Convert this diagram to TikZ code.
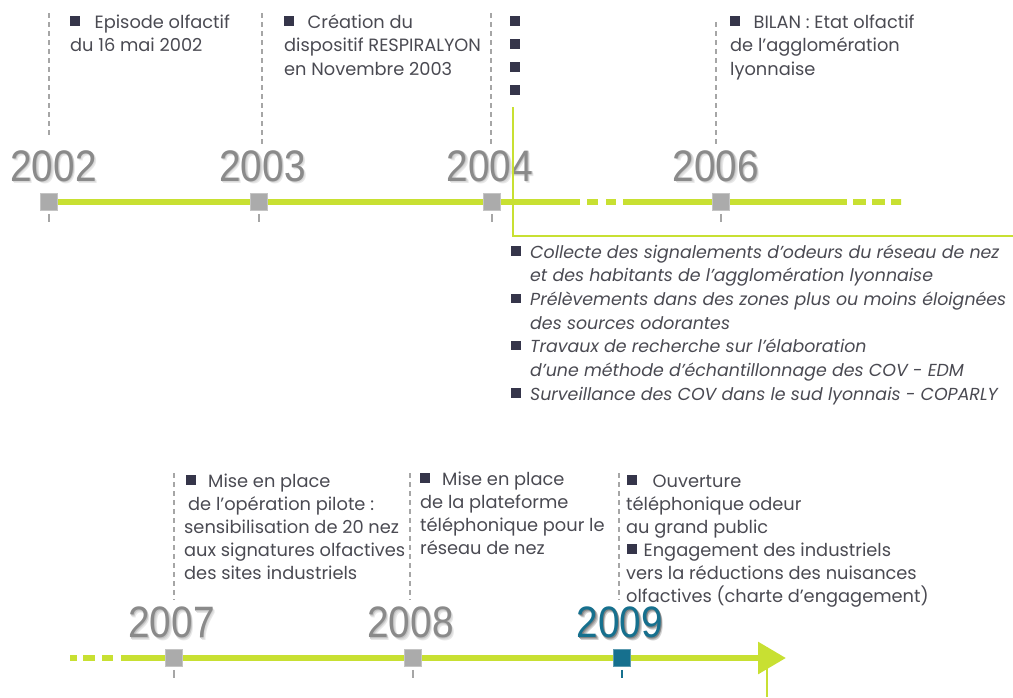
\documentclass[tikz,border=0pt]{standalone}
\usepackage{fontspec}
\usepackage{graphicx}
\setmainfont{Poppins}
\newfontfamily\yrfont{Liberation Sans}
\usetikzlibrary{arrows.meta,backgrounds}
\definecolor{lime}{HTML}{C8E032}
\definecolor{sqgray}{HTML}{ABABAB}
\definecolor{guidegray}{HTML}{A6A6A6}
\definecolor{txtc}{HTML}{4A4A52}
\definecolor{bulc}{HTML}{35354A}
\definecolor{yrgray}{HTML}{8A8A8A}
\definecolor{yrblue}{HTML}{16708E}
\newcommand{\bl}{\textcolor{bulc}{\rule[2.5pt]{9.5pt}{9.5pt}}}
\newcommand{\yr}[1]{\scalebox{0.88}[1]{#1}}
\newcommand{\sq}{'}
% year text with a soft drop shadow, in one box
\newcommand{\shyr}[4]{% #1,#2,#3 shadow colours (far to near), #4 year
  \makebox[0pt][l]{\hspace{2.1pt}\raisebox{-2.4pt}[0pt][0pt]{\textcolor{#1}{\yr{#4}}}}%
  \makebox[0pt][l]{\hspace{1.4pt}\raisebox{-1.6pt}[0pt][0pt]{\textcolor{#2}{\yr{#4}}}}%
  \makebox[0pt][l]{\hspace{0.7pt}\raisebox{-0.8pt}[0pt][0pt]{\textcolor{#3}{\yr{#4}}}}%
  \yr{#4}}
\newcommand{\gyr}[1]{\shyr{black!9}{black!15}{black!24}{#1}}
\newcommand{\byr}[1]{\shyr{black!18}{black!32}{black!48}{#1}}
\begin{document}
\begin{tikzpicture}[x=1pt,y=-1pt,
  sqbox/.style={rectangle,fill=sqgray,draw=sqgray!70!white,line width=0.8pt,minimum size=17pt,inner sep=0pt},
  sqblue/.style={sqbox,fill=yrblue,draw=yrblue!70!white},
  yrlab/.style={font=\yrfont\fontsize{44}{44}\selectfont,text=yrgray,inner sep=0pt},
  yrbluelab/.style={yrlab,text=yrblue},
  guide/.style={draw=guidegray,line width=1.5pt,dash pattern=on 5pt off 4pt},
  tickg/.style={draw=guidegray,line width=1.5pt},
  tickb/.style={draw=yrblue,line width=1.5pt},
  tl/.style={draw=lime,line width=6pt},
  thinl/.style={draw=lime,line width=2pt},
  blk/.style={anchor=north west,inner sep=0pt,align=left,text=txtc,font=\fontsize{17.8}{23.5}\selectfont},
  blki/.style={blk,font=\fontsize{17.4}{23.7}\selectfont\itshape},
  blkb/.style={blk,font=\fontsize{17.8}{23}\selectfont},
]
\useasboundingbox (0,0) rectangle (1013,697);

% ---------- top timeline ----------
\node[sqbox] (sq02) at (49,202) {};
\node[sqbox] (sq03) at (259,202) {};
\node[sqbox] (sq04) at (492,202) {};
\node[sqbox] (sq06) at (721,202) {};
\coordinate (g1) at (580,202);
\coordinate (g2) at (623,202);
\coordinate (g3) at (847,202);
\coordinate (g4) at (901,202);

\begin{scope}[on background layer]
  \draw[tl] (sq02.center) -- (sq03.center) -- (sq04.center) -- (g1);
  \draw[tl,dash pattern=on 0pt off 7pt on 11pt off 8pt on 10pt off 7pt] (g1) -- (g2);
  \draw[tl] (g2) -- (sq06.center) -- (g3);
  \draw[tl,dash pattern=on 0pt off 6pt on 13pt off 6pt on 13pt off 6pt on 10pt] (g3) -- (g4);
\end{scope}

% guides
\coordinate (t02) at (49,13);  \coordinate (b02) at (49,137);
\coordinate (t03) at (262,13); \coordinate (b03) at (262,145);
\coordinate (t04) at (491,13); \coordinate (b04) at (491,145);
\coordinate (t06) at (716,22); \coordinate (b06) at (716,147);
\draw[guide] (t02) -- (b02);
\draw[guide] (t03) -- (b03);
\draw[guide] (t04) -- (b04);
\draw[guide] (t06) -- (b06);
\draw[tickg] (sq02.south) ++(0,3) -- ++(0,8);
\draw[tickg] (sq03.south) ++(0,3) -- ++(0,8);
\draw[tickg] (sq04.south) ++(0,3) -- ++(0,8);
\draw[tickg] (sq06.south) ++(0,3) -- ++(0,8);

% year labels
\node[yrlab] (l02) at (53.5,166) {\gyr{2002}};
\node[yrlab] (l03) at (262.5,166) {\gyr{2003}};
\node[yrlab] (l04) at (490,166) {\gyr{2004}};
\node[yrlab] (l06) at (716,166) {\gyr{2006}};

% green bracket
\coordinate (k1) at (513,107);
\coordinate (k2) at (513,236);
\coordinate (k3) at (1013,236);
\draw[thinl] (k1) -- (k2) -- (k3);

% top texts
\node[blk] (txa) at (70,11.5) {\strut\bl\hspace{15pt}Episode olfactif\\du 16 mai 2002};
\node[blk] (txb) at (284,11.5) {\strut\bl\hspace{14pt}Création du\\dispositif RESPIRALYON\\en Novembre 2003};
\node[blkb] (txc) at (510,11.9) {\strut\bl\\\bl\\\bl\\\bl};
\node[blk] (txd) at (730,11.5) {\strut\bl\hspace{14pt}BILAN : Etat olfactif\\de l\sq agglomération\\lyonnaise};

% middle italic block
\node[blki] (txm) at (511,241.4) {\strut\bl\hspace{9.5pt}Collecte des signalements d\sq odeurs du réseau de nez\\
\hspace*{19pt}et des habitants de l\sq agglomération lyonnaise\\
\bl\hspace{9.5pt}Prélèvements dans des zones plus ou moins éloignées\\
\hspace*{19pt}des sources odorantes\\
\bl\hspace{9.5pt}Travaux de recherche sur l’élaboration\\
\hspace*{19pt}d’une méthode d’échantillonnage des COV - EDM\\
\bl\hspace{9.5pt}Surveillance des COV dans le sud lyonnais - COPARLY};

% ---------- bottom timeline ----------
\node[sqbox] (sq07) at (174,658) {};
\node[sqbox] (sq08) at (413,658) {};
\node[sqblue] (sq09) at (622,658) {};
\coordinate (b0) at (70,658);
\coordinate (b1) at (121,658);
\coordinate (tip) at (786,658);
\begin{scope}[on background layer]
  \draw[tl,dash pattern=on 7pt off 6pt on 12pt off 7pt on 11pt off 8pt] (b0) -- (b1);
  \draw[tl,-{Triangle[length=28pt,width=31pt]}] (b1) -- (sq07.center) -- (sq08.center) -- (sq09.center) -- (tip);
\end{scope}
\coordinate (v1) at (767,668);
\coordinate (v2) at (767,697);
\draw[thinl] (v1) -- (v2);

\coordinate (t07) at (174,473); \coordinate (b07) at (174,600);
\coordinate (t08) at (410,473); \coordinate (b08) at (410,600);
\coordinate (t09) at (619,473); \coordinate (b09) at (619,600);
\draw[guide] (t07) -- (b07);
\draw[guide] (t08) -- (b08);
\draw[guide] (t09) -- (b09);
\draw[tickg] (sq07.south) ++(0,3) -- ++(0,8);
\draw[tickg] (sq08.south) ++(0,3) -- ++(0,8);
\draw[tickb] (sq09.south) ++(0,3) -- ++(0,8);

\node[yrlab] (l07) at (171.5,622.5) {\gyr{2007}};
\node[yrlab] (l08) at (410.5,622.5) {\gyr{2008}};
\node[yrbluelab] (l09) at (620,622.5) {\byr{2009}};

% bottom texts
\node[blkb] (txe) at (184,470.9) {\strut\hspace*{2pt}\bl\hspace{12.5pt}Mise en place\\
\hspace*{4pt}de l\sq opération pilote :\\
sensibilisation de 20 nez\\
aux signatures olfactives\\
des sites industriels};
\node[blkb] (txf) at (420,468.9) {\strut\bl\hspace{12.5pt}Mise en place\\
de la plateforme\\
téléphonique pour le\\
réseau de nez};
\node[blkb] (txg) at (626,470.9) {\strut\hspace*{1pt}\bl\hspace{16pt}Ouverture\\
téléphonique odeur\\
au grand public\\
\hspace*{1pt}\bl\hspace{7pt}Engagement des industriels\\
vers la réductions des nuisances\\
olfactives (charte d’engagement)};
\end{tikzpicture}
\end{document}
